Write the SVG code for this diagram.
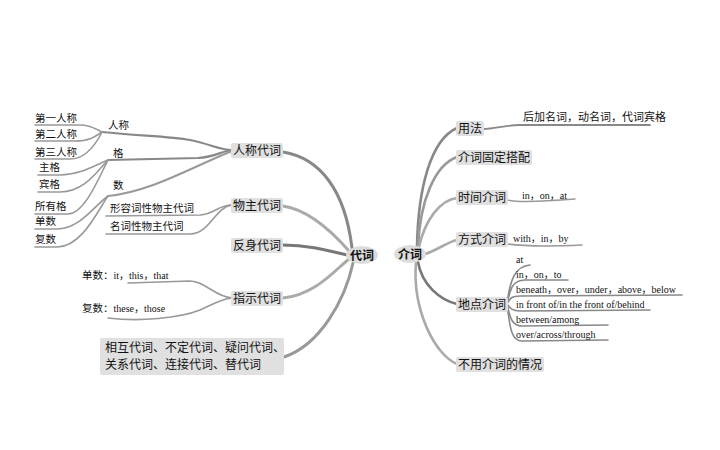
<svg xmlns="http://www.w3.org/2000/svg" width="720" height="450" viewBox="0 0 720 450">
<style>
.zh{font-family:"Noto Sans CJK SC","DejaVu Sans",sans-serif;fill:#111}
.en{font-family:"Liberation Serif","Noto Sans CJK SC",serif;fill:#111}
.box{fill:#e0e0e0}
.hub{fill:#dcdcdc}
.lbl{font-size:12px}
.sm{font-size:10.5px}
.ln{fill:none;stroke-linecap:round}
.thin{fill:none;stroke:#999;stroke-width:1.6;stroke-linecap:round}
</style>
<rect width="720" height="450" fill="#fff"/>
<g id="connectors">
<!-- left main -->
<path class="ln" d="M283,152 C320,158 345,190 352,248" stroke="#888" stroke-width="3"/>
<path class="ln" d="M283,206 C310,210 335,235 349,251" stroke="#aaa" stroke-width="3"/>
<path class="ln" d="M283,245 C310,245 330,251 347,255" stroke="#777" stroke-width="3"/>
<path class="ln" d="M283,298 C315,295 335,270 349,259" stroke="#aaa" stroke-width="3"/>
<path class="ln" d="M284,357 C320,345 345,300 353,263" stroke="#999" stroke-width="3"/>
<!-- 人称代词 subs -->
<path class="ln" d="M102,132 C140,136 170,136 190,140 S220,150 232,150" stroke="#888" stroke-width="2.2"/>
<path class="ln" d="M108,160 L198,158 C215,157 222,151 232,150" stroke="#888" stroke-width="2.2"/>
<path class="ln" d="M108,196 C150,192 190,168 232,151" stroke="#999" stroke-width="2"/>
<path class="thin" d="M35,125 L80,125 C92,125 97,130 102,132"/>
<path class="thin" d="M35,141 L75,141 C90,141 96,136 102,132"/>
<path class="thin" d="M35,159 L70,159 C88,159 98,140 102,132"/>
<path class="thin" d="M38,175 L60,175 C80,175 95,165 108,160"/>
<path class="thin" d="M38,192 L60,192 C85,192 98,170 108,160"/>
<path class="thin" d="M35,214 L68,214 C85,214 100,175 108,160"/>
<path class="thin" d="M35,229 L57,229 C80,229 95,205 108,196"/>
<path class="thin" d="M35,247 L57,247 C82,247 98,210 108,196"/>
<!-- 物主代词 subs -->
<path class="thin" d="M106,216 L200,215 C215,214 218,205 232,205"/>
<path class="thin" d="M106,234 L190,234 C210,234 215,207 232,205"/>
<!-- 指示代词 subs -->
<path class="thin" d="M128,283 L190,281 C205,281 215,297 232,298"/>
<path class="thin" d="M108,318 C140,322 180,318 200,310 C215,303 222,299 232,298"/>
<!-- right main -->
<path class="ln" d="M417,247 C418,190 430,140 457,128" stroke="#888" stroke-width="2.6"/>
<path class="ln" d="M418,247 C420,200 435,165 457,157" stroke="#999" stroke-width="2.6"/>
<path class="ln" d="M419,247 C425,220 440,200 457,198" stroke="#aaa" stroke-width="2.6"/>
<path class="ln" d="M425,254 C438,250 447,242 457,240" stroke="#aaa" stroke-width="2.6"/>
<path class="ln" d="M418,262 C422,285 440,300 457,304" stroke="#777" stroke-width="2.6"/>
<path class="ln" d="M416,262 C412,310 435,355 457,364" stroke="#aaa" stroke-width="2.6"/>
<!-- right subs -->
<path class="ln" d="M483,129 C495,129 505,125 520,125 L650,125" stroke="#888" stroke-width="1.8"/>
<path class="thin" d="M507,200 C520,203 550,201 575,199"/>
<path class="thin" d="M507,244 C530,247 560,246 582,245"/>
<path class="ln" d="M507,304 C510,280 515,266 530,265" stroke="#888" stroke-width="1.6"/>
<path class="ln" d="M507,304 C510,290 512,280 525,280 L568,280" stroke="#888" stroke-width="1.6"/>
<path class="ln" d="M507,304 C510,298 512,296 520,296 L682,295" stroke="#888" stroke-width="1.6"/>
<path class="ln" d="M507,304 C510,308 512,311 520,311 L650,310" stroke="#888" stroke-width="1.6"/>
<path class="ln" d="M507,304 C510,318 512,326 522,326 L608,325" stroke="#888" stroke-width="1.6"/>
<path class="ln" d="M507,304 C510,330 512,341 522,341 L608,340" stroke="#888" stroke-width="1.6"/>
</g>
<g id="daici">
<ellipse class="hub" cx="362" cy="255" rx="16" ry="9"/>
<text class="zh" x="362" y="259.5" font-size="12" font-weight="bold" text-anchor="middle">代词</text>
</g>
<g id="jieci">
<ellipse class="hub" cx="410" cy="254" rx="16" ry="9"/>
<text class="zh" x="410" y="258.5" font-size="12" font-weight="bold" text-anchor="middle">介词</text>
</g>
<g id="renchengdaici">
<rect class="box" x="231" y="143" width="52" height="15" rx="2"/>
<text class="zh lbl" x="233" y="155">人称代词</text>
</g>
<g id="wuzhudaici">
<rect class="box" x="231" y="198" width="52" height="15" rx="2"/>
<text class="zh lbl" x="233" y="210">物主代词</text>
</g>
<g id="fanshendaici">
<rect class="box" x="231" y="238" width="52" height="15" rx="2"/>
<text class="zh lbl" x="233" y="250">反身代词</text>
</g>
<g id="zhishidaici">
<rect class="box" x="231" y="291" width="52" height="15" rx="2"/>
<text class="zh lbl" x="233" y="303">指示代词</text>
</g>
<g id="others">
<rect class="box" x="100" y="338" width="184" height="37" rx="2"/>
<text class="zh lbl" x="105" y="352">相互代词、不定代词、疑问代词、</text>
<text class="zh lbl" x="105" y="369">关系代词、连接代词、替代词</text>
</g>
<g id="rencheng"><text class="zh sm" x="108" y="129">人称</text></g>
<g id="ge"><text class="zh sm" x="113" y="157">格</text></g>
<g id="shu"><text class="zh sm" x="113" y="189">数</text></g>
<g id="diyi"><text class="zh sm" x="35" y="122">第一人称</text></g>
<g id="dier"><text class="zh sm" x="35" y="138">第二人称</text></g>
<g id="disan"><text class="zh sm" x="35" y="156">第三人称</text></g>
<g id="zhuge"><text class="zh sm" x="39" y="171">主格</text></g>
<g id="binge"><text class="zh sm" x="39" y="188">宾格</text></g>
<g id="suoyouge"><text class="zh sm" x="35" y="210">所有格</text></g>
<g id="danshu"><text class="zh sm" x="35" y="225">单数</text></g>
<g id="fushu"><text class="zh sm" x="35" y="243">复数</text></g>
<g id="xingrongci"><text class="zh sm" x="110" y="212">形容词性物主代词</text></g>
<g id="mingcixing"><text class="zh sm" x="110" y="230">名词性物主代词</text></g>
<g id="zs-dan"><text class="en" x="82" y="279" font-size="10"><tspan class="zh" font-size="10.5">单数：</tspan>it，this，that</text></g>
<g id="zs-fu"><text class="en" x="82" y="312" font-size="10"><tspan class="zh" font-size="10.5">复数：</tspan>these，those</text></g>
<g id="yongfa">
<rect class="box" x="456" y="121" width="28" height="15" rx="2"/>
<text class="zh lbl" x="458" y="133">用法</text>
</g>
<g id="houjia"><text class="zh" x="523" y="121" font-size="11">后加名词，动名词，代词宾格</text></g>
<g id="gudingdapei">
<rect class="box" x="456" y="150" width="76" height="15" rx="2"/>
<text class="zh lbl" x="458" y="162">介词固定搭配</text>
</g>
<g id="shijian">
<rect class="box" x="456" y="190" width="52" height="15" rx="2"/>
<text class="zh lbl" x="458" y="202">时间介词</text>
</g>
<g id="shijian-sub"><text class="en" x="522" y="199" font-size="10">in，on，at</text></g>
<g id="fangshi">
<rect class="box" x="456" y="232" width="52" height="15" rx="2"/>
<text class="zh lbl" x="458" y="244">方式介词</text>
</g>
<g id="fangshi-sub"><text class="en" x="513" y="242" font-size="10">with，in，by</text></g>
<g id="didian">
<rect class="box" x="456" y="297" width="52" height="15" rx="2"/>
<text class="zh lbl" x="458" y="309">地点介词</text>
</g>
<g id="dd-at"><text class="en" x="516" y="263" font-size="10">at</text></g>
<g id="dd-in"><text class="en" x="516" y="278" font-size="10">in，on，to</text></g>
<g id="dd-beneath"><text class="en" x="516" y="293" font-size="10">beneath，over，under，above，below</text></g>
<g id="dd-front"><text class="en" x="516" y="308" font-size="10">in front of/in the front of/behind</text></g>
<g id="dd-between"><text class="en" x="516" y="323" font-size="10">between/among</text></g>
<g id="dd-over"><text class="en" x="516" y="338" font-size="10">over/across/through</text></g>
<g id="buyong">
<rect class="box" x="456" y="357" width="88" height="15" rx="2"/>
<text class="zh lbl" x="458" y="369">不用介词的情况</text>
</g>
</svg>
